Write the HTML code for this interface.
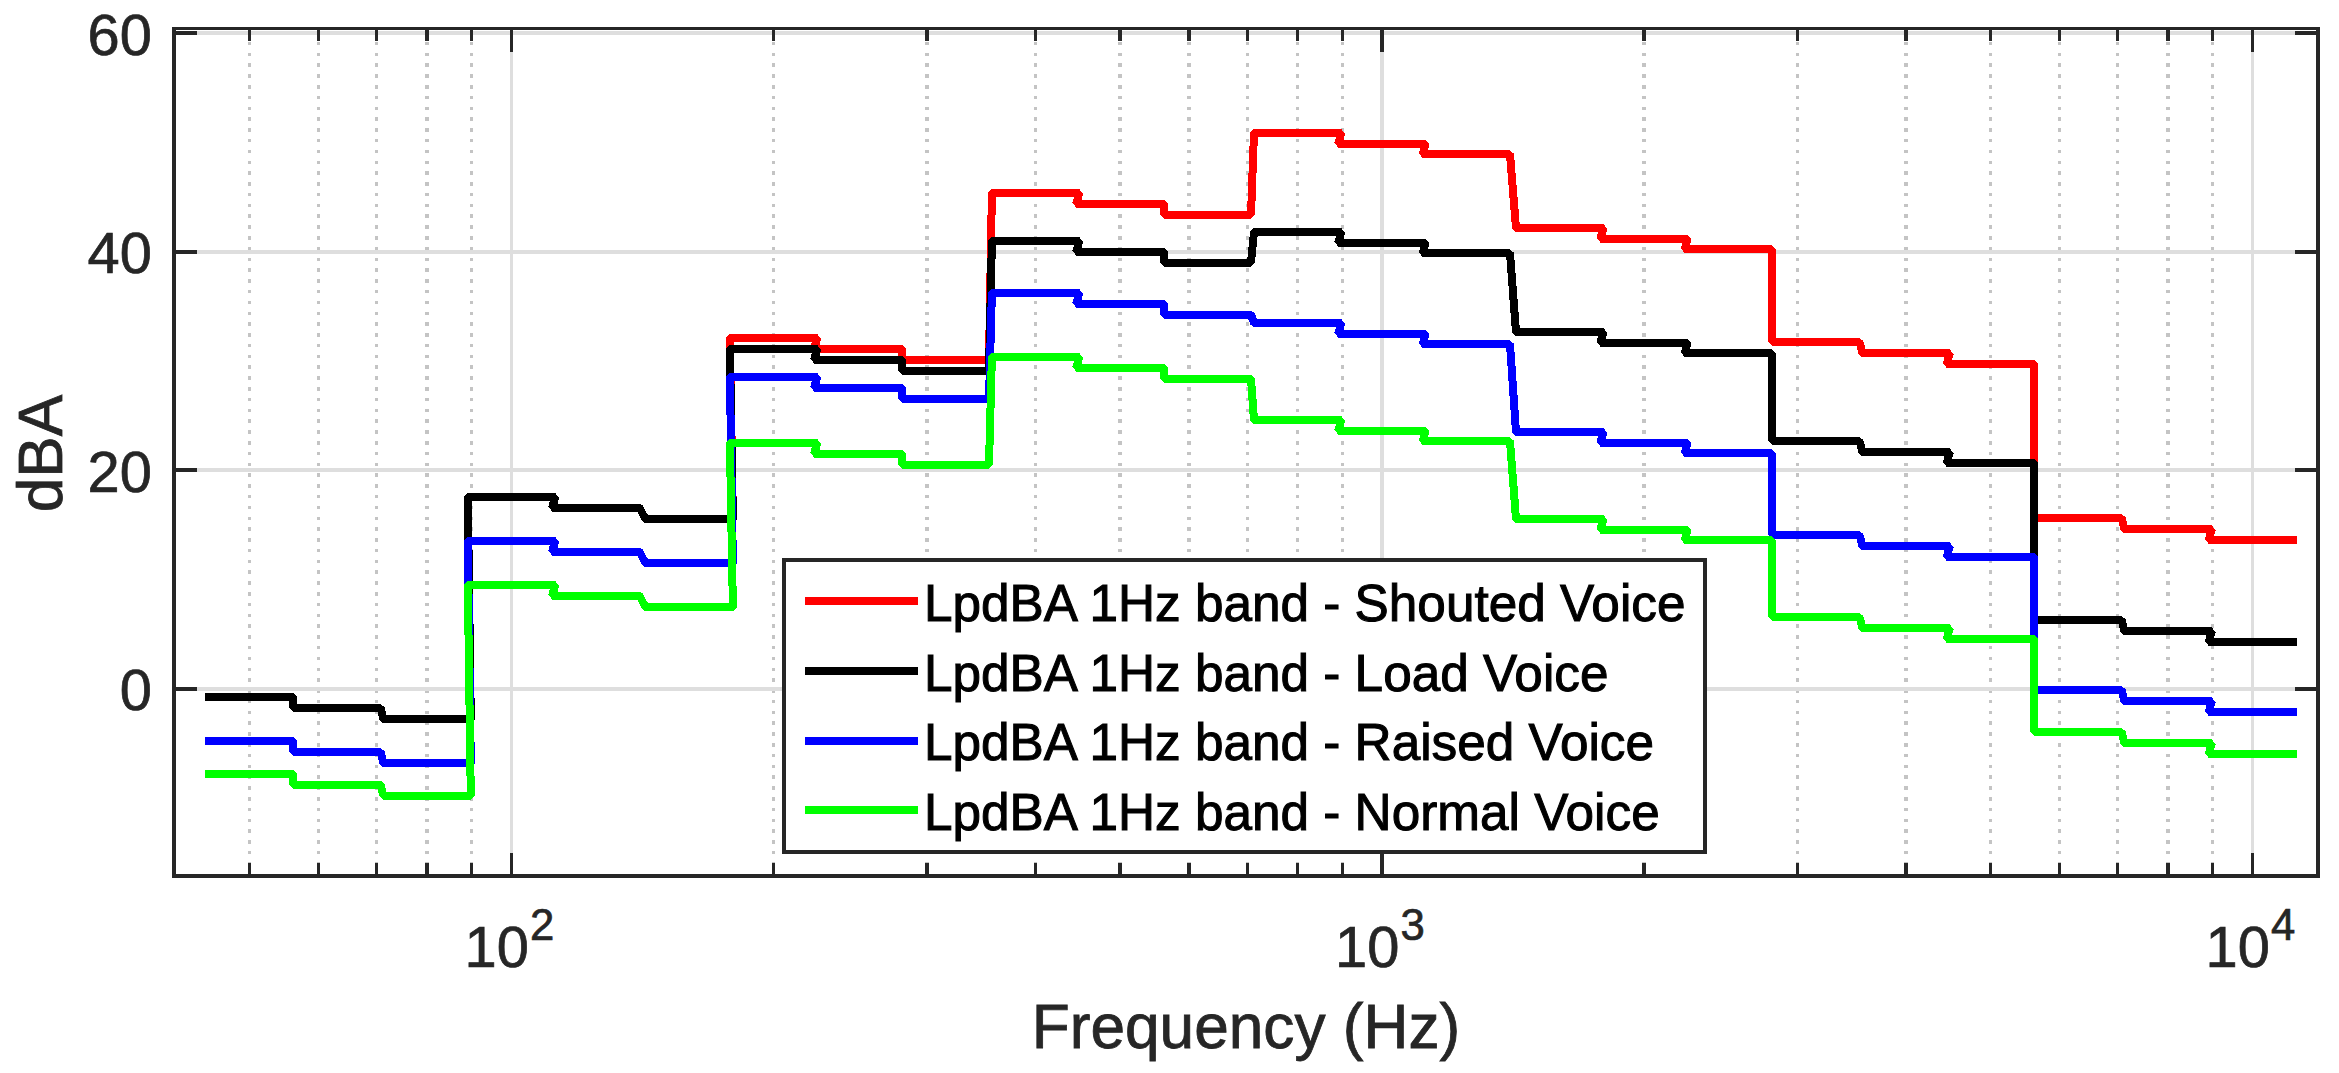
<!DOCTYPE html>
<html lang="en"><head><meta charset="utf-8"><title>LpdBA 1Hz band - Voice levels</title>
<style>html,body{margin:0;padding:0;background:#fff}body{width:2339px;height:1073px;overflow:hidden}svg{display:block}text{font-family:"Liberation Sans",Arial,Helvetica,sans-serif}</style>
</head><body>
<svg width="2339" height="1073" viewBox="0 0 2339 1073">
<rect x="0" y="0" width="2339" height="1073" fill="#fff"/>
<g shape-rendering="crispEdges">
<g stroke="#c4c4c4" stroke-width="3.4" stroke-dasharray="3.5 7.288" fill="none">
<line x1="249.5" y1="41.85" x2="249.5" y2="876.0"/>
<line x1="318.4" y1="41.85" x2="318.4" y2="876.0"/>
<line x1="376.7" y1="41.85" x2="376.7" y2="876.0"/>
<line x1="427.1" y1="41.85" x2="427.1" y2="876.0"/>
<line x1="471.7" y1="41.85" x2="471.7" y2="876.0"/>
<line x1="773.5" y1="41.85" x2="773.5" y2="876.0"/>
<line x1="926.8" y1="41.85" x2="926.8" y2="876.0"/>
<line x1="1035.6" y1="41.85" x2="1035.6" y2="876.0"/>
<line x1="1120.0" y1="41.85" x2="1120.0" y2="876.0"/>
<line x1="1188.9" y1="41.85" x2="1188.9" y2="876.0"/>
<line x1="1247.2" y1="41.85" x2="1247.2" y2="876.0"/>
<line x1="1297.6" y1="41.85" x2="1297.6" y2="876.0"/>
<line x1="1342.2" y1="41.85" x2="1342.2" y2="876.0"/>
<line x1="1644.0" y1="41.85" x2="1644.0" y2="876.0"/>
<line x1="1797.3" y1="41.85" x2="1797.3" y2="876.0"/>
<line x1="1906.1" y1="41.85" x2="1906.1" y2="876.0"/>
<line x1="1990.5" y1="41.85" x2="1990.5" y2="876.0"/>
<line x1="2059.4" y1="41.85" x2="2059.4" y2="876.0"/>
<line x1="2117.7" y1="41.85" x2="2117.7" y2="876.0"/>
<line x1="2168.1" y1="41.85" x2="2168.1" y2="876.0"/>
<line x1="2212.7" y1="41.85" x2="2212.7" y2="876.0"/>
</g>
<g stroke="#dedede" stroke-width="3.4" fill="none">
<line x1="511.5" y1="28.5" x2="511.5" y2="876.0"/>
<line x1="1382.0" y1="28.5" x2="1382.0" y2="876.0"/>
<line x1="2252.5" y1="28.5" x2="2252.5" y2="876.0"/>
</g>
<g stroke="#dedede" stroke-width="4" fill="none">
<line x1="174.0" y1="33.0" x2="2318.0" y2="33.0"/>
<line x1="174.0" y1="252.0" x2="2318.0" y2="252.0"/>
<line x1="174.0" y1="470.0" x2="2318.0" y2="470.0"/>
<line x1="174.0" y1="689.0" x2="2318.0" y2="689.0"/>
</g>
</g>
<g fill="none" stroke-width="8" stroke-linejoin="bevel" stroke-linecap="butt" shape-rendering="crispEdges">
<path d="M205.1 697.0 L293.1 697.0 L293.2 708.0 L380.5 708.0 L383.5 719.3 L470.8 719.3 L467.8 497.0 L555.2 497.0 L552.2 507.6 L639.5 507.6 L645.5 519.3 L732.9 519.3 L729.9 338.0 L817.2 338.0 L814.2 348.6 L901.6 348.6 L901.6 359.6 L989.0 359.6 L991.9 193.0 L1079.3 193.0 L1076.3 203.6 L1163.6 203.6 L1163.7 214.6 L1251.0 214.6 L1254.0 133.0 L1341.3 133.0 L1338.3 143.6 L1425.7 143.6 L1422.7 154.2 L1510.0 154.2 L1516.0 228.0 L1603.4 228.0 L1600.4 238.6 L1687.7 238.6 L1684.7 249.2 L1772.1 249.2 L1772.1 342.0 L1859.5 342.0 L1862.4 353.3 L1949.8 353.3 L1946.8 363.9 L2034.1 363.9 L2034.2 518.0 L2121.5 518.0 L2124.5 529.3 L2211.8 529.3 L2208.8 539.9 L2297.1 539.9" stroke="#ff0000"/>
<path d="M205.1 697.0 L293.1 697.0 L293.2 708.0 L380.5 708.0 L383.5 719.3 L470.8 719.3 L467.8 497.0 L555.2 497.0 L552.2 507.6 L639.5 507.6 L645.5 519.3 L732.9 519.3 L729.9 349.0 L817.2 349.0 L814.2 359.6 L901.6 359.6 L901.6 370.6 L989.0 370.6 L991.9 241.0 L1079.3 241.0 L1076.3 251.6 L1163.6 251.6 L1163.7 262.6 L1251.0 262.6 L1254.0 232.0 L1341.3 232.0 L1338.3 242.6 L1425.7 242.6 L1422.7 253.2 L1510.0 253.2 L1516.0 332.0 L1603.4 332.0 L1600.4 342.6 L1687.7 342.6 L1684.7 353.2 L1772.1 353.2 L1772.1 441.0 L1859.5 441.0 L1862.4 452.3 L1949.8 452.3 L1946.8 462.9 L2034.1 462.9 L2034.2 620.0 L2121.5 620.0 L2124.5 631.3 L2211.8 631.3 L2208.8 641.9 L2297.1 641.9" stroke="#000000"/>
<path d="M205.1 741.0 L293.1 741.0 L293.2 752.0 L380.5 752.0 L383.5 763.3 L470.8 763.3 L467.8 541.0 L555.2 541.0 L552.2 551.6 L639.5 551.6 L645.5 563.3 L732.9 563.3 L729.9 377.0 L817.2 377.0 L814.2 387.6 L901.6 387.6 L901.6 398.6 L989.0 398.6 L991.9 293.0 L1079.3 293.0 L1076.3 303.6 L1163.6 303.6 L1163.7 314.6 L1251.0 314.6 L1254.0 323.0 L1341.3 323.0 L1338.3 333.6 L1425.7 333.6 L1422.7 344.2 L1510.0 344.2 L1516.0 432.0 L1603.4 432.0 L1600.4 442.6 L1687.7 442.6 L1684.7 453.2 L1772.1 453.2 L1772.1 535.0 L1859.5 535.0 L1862.4 546.3 L1949.8 546.3 L1946.8 556.9 L2034.1 556.9 L2034.2 690.0 L2121.5 690.0 L2124.5 701.3 L2211.8 701.3 L2208.8 711.9 L2297.1 711.9" stroke="#0000ff"/>
<path d="M205.1 773.5 L293.1 773.5 L293.2 784.5 L380.5 784.5 L383.5 795.8 L470.8 795.8 L467.8 585.0 L555.2 585.0 L552.2 595.6 L639.5 595.6 L645.5 607.3 L732.9 607.3 L729.9 443.0 L817.2 443.0 L814.2 453.6 L901.6 453.6 L901.6 464.6 L989.0 464.6 L991.9 357.0 L1079.3 357.0 L1076.3 367.6 L1163.6 367.6 L1163.7 378.6 L1251.0 378.6 L1254.0 420.0 L1341.3 420.0 L1338.3 430.6 L1425.7 430.6 L1422.7 441.2 L1510.0 441.2 L1516.0 519.0 L1603.4 519.0 L1600.4 529.6 L1687.7 529.6 L1684.7 540.2 L1772.1 540.2 L1772.1 617.0 L1859.5 617.0 L1862.4 628.3 L1949.8 628.3 L1946.8 638.9 L2034.1 638.9 L2034.2 732.0 L2121.5 732.0 L2124.5 743.3 L2211.8 743.3 L2208.8 753.9 L2297.1 753.9" stroke="#00ff00"/>
</g>
<g shape-rendering="crispEdges" stroke="#262626" fill="none">
<rect x="172" y="27" width="2148" height="3" fill="#262626" stroke="none"/>
<rect x="172" y="874" width="2148" height="4" fill="#262626" stroke="none"/>
<rect x="172" y="27" width="4" height="851" fill="#262626" stroke="none"/>
<rect x="2316" y="27" width="4" height="851" fill="#262626" stroke="none"/>
<rect x="174" y="31" width="23" height="4" fill="#262626" stroke="none"/>
<rect x="2295" y="31" width="23" height="4" fill="#262626" stroke="none"/>
<rect x="174" y="250" width="23" height="4" fill="#262626" stroke="none"/>
<rect x="2295" y="250" width="23" height="4" fill="#262626" stroke="none"/>
<rect x="174" y="468" width="23" height="4" fill="#262626" stroke="none"/>
<rect x="2295" y="468" width="23" height="4" fill="#262626" stroke="none"/>
<rect x="174" y="687" width="23" height="4" fill="#262626" stroke="none"/>
<rect x="2295" y="687" width="23" height="4" fill="#262626" stroke="none"/>
<rect x="510" y="853" width="3" height="23" fill="#262626" stroke="none"/>
<rect x="510" y="28" width="3" height="23.5" fill="#262626" stroke="none"/>
<rect x="1380" y="853" width="4" height="23" fill="#262626" stroke="none"/>
<rect x="1380" y="28" width="4" height="23.5" fill="#262626" stroke="none"/>
<rect x="2251" y="853" width="3" height="23" fill="#262626" stroke="none"/>
<rect x="2251" y="28" width="3" height="23.5" fill="#262626" stroke="none"/>
<rect x="247.8" y="863" width="3.4" height="13" fill="#262626" stroke="none"/>
<rect x="247.8" y="28" width="3.4" height="12.5" fill="#262626" stroke="none"/>
<rect x="316.7" y="863" width="3.4" height="13" fill="#262626" stroke="none"/>
<rect x="316.7" y="28" width="3.4" height="12.5" fill="#262626" stroke="none"/>
<rect x="375.0" y="863" width="3.4" height="13" fill="#262626" stroke="none"/>
<rect x="375.0" y="28" width="3.4" height="12.5" fill="#262626" stroke="none"/>
<rect x="425.4" y="863" width="3.4" height="13" fill="#262626" stroke="none"/>
<rect x="425.4" y="28" width="3.4" height="12.5" fill="#262626" stroke="none"/>
<rect x="470.0" y="863" width="3.4" height="13" fill="#262626" stroke="none"/>
<rect x="470.0" y="28" width="3.4" height="12.5" fill="#262626" stroke="none"/>
<rect x="771.8" y="863" width="3.4" height="13" fill="#262626" stroke="none"/>
<rect x="771.8" y="28" width="3.4" height="12.5" fill="#262626" stroke="none"/>
<rect x="925.1" y="863" width="3.4" height="13" fill="#262626" stroke="none"/>
<rect x="925.1" y="28" width="3.4" height="12.5" fill="#262626" stroke="none"/>
<rect x="1033.9" y="863" width="3.4" height="13" fill="#262626" stroke="none"/>
<rect x="1033.9" y="28" width="3.4" height="12.5" fill="#262626" stroke="none"/>
<rect x="1118.3" y="863" width="3.4" height="13" fill="#262626" stroke="none"/>
<rect x="1118.3" y="28" width="3.4" height="12.5" fill="#262626" stroke="none"/>
<rect x="1187.2" y="863" width="3.4" height="13" fill="#262626" stroke="none"/>
<rect x="1187.2" y="28" width="3.4" height="12.5" fill="#262626" stroke="none"/>
<rect x="1245.5" y="863" width="3.4" height="13" fill="#262626" stroke="none"/>
<rect x="1245.5" y="28" width="3.4" height="12.5" fill="#262626" stroke="none"/>
<rect x="1295.9" y="863" width="3.4" height="13" fill="#262626" stroke="none"/>
<rect x="1295.9" y="28" width="3.4" height="12.5" fill="#262626" stroke="none"/>
<rect x="1340.5" y="863" width="3.4" height="13" fill="#262626" stroke="none"/>
<rect x="1340.5" y="28" width="3.4" height="12.5" fill="#262626" stroke="none"/>
<rect x="1642.3" y="863" width="3.4" height="13" fill="#262626" stroke="none"/>
<rect x="1642.3" y="28" width="3.4" height="12.5" fill="#262626" stroke="none"/>
<rect x="1795.6" y="863" width="3.4" height="13" fill="#262626" stroke="none"/>
<rect x="1795.6" y="28" width="3.4" height="12.5" fill="#262626" stroke="none"/>
<rect x="1904.4" y="863" width="3.4" height="13" fill="#262626" stroke="none"/>
<rect x="1904.4" y="28" width="3.4" height="12.5" fill="#262626" stroke="none"/>
<rect x="1988.8" y="863" width="3.4" height="13" fill="#262626" stroke="none"/>
<rect x="1988.8" y="28" width="3.4" height="12.5" fill="#262626" stroke="none"/>
<rect x="2057.7" y="863" width="3.4" height="13" fill="#262626" stroke="none"/>
<rect x="2057.7" y="28" width="3.4" height="12.5" fill="#262626" stroke="none"/>
<rect x="2116.0" y="863" width="3.4" height="13" fill="#262626" stroke="none"/>
<rect x="2116.0" y="28" width="3.4" height="12.5" fill="#262626" stroke="none"/>
<rect x="2166.4" y="863" width="3.4" height="13" fill="#262626" stroke="none"/>
<rect x="2166.4" y="28" width="3.4" height="12.5" fill="#262626" stroke="none"/>
<rect x="2211.0" y="863" width="3.4" height="13" fill="#262626" stroke="none"/>
<rect x="2211.0" y="28" width="3.4" height="12.5" fill="#262626" stroke="none"/>
</g>
<g fill="#262626" stroke="#262626" stroke-width="0.7" font-size="57.8">
<text x="151.9" y="55.0" text-anchor="end">60</text>
<text x="151.9" y="273.0" text-anchor="end">40</text>
<text x="151.9" y="491.5" text-anchor="end">20</text>
<text x="151.9" y="709.9" text-anchor="end">0</text>
<text x="464.5" y="967.2">10<tspan font-size="43.7" dx="1.3" dy="-27.2">2</tspan></text>
<text x="1335.0" y="967.2">10<tspan font-size="43.7" dx="1.3" dy="-27.2">3</tspan></text>
<text x="2205.5" y="967.2">10<tspan font-size="43.7" dx="1.3" dy="-27.2">4</tspan></text>
</g>
<text x="1246" y="1047.7" font-size="62.2" text-anchor="middle" stroke="#262626" stroke-width="0.8" fill="#262626">Frequency (Hz)</text>
<text transform="translate(61.9,453.6) rotate(-90)" font-size="62.2" text-anchor="middle" stroke="#262626" stroke-width="0.8" fill="#262626">dBA</text>
<rect x="784.1" y="560.1" width="921.1" height="291.9" fill="#fff" stroke="#262626" stroke-width="3.6" shape-rendering="crispEdges"/>
<line x1="805" y1="601.0" x2="918.2" y2="601.0" stroke="#ff0000" stroke-width="8" shape-rendering="crispEdges"/>
<text x="924" y="621.0" font-size="51.3" fill="#000" stroke="#000" stroke-width="1">LpdBA 1Hz band - Shouted Voice</text>
<line x1="805" y1="671.0" x2="918.2" y2="671.0" stroke="#000000" stroke-width="8" shape-rendering="crispEdges"/>
<text x="924" y="690.5" font-size="51.3" fill="#000" stroke="#000" stroke-width="1">LpdBA 1Hz band - Load Voice</text>
<line x1="805" y1="741.0" x2="918.2" y2="741.0" stroke="#0000ff" stroke-width="8" shape-rendering="crispEdges"/>
<text x="924" y="760.3" font-size="51.3" fill="#000" stroke="#000" stroke-width="1">LpdBA 1Hz band - Raised Voice</text>
<line x1="805" y1="810.3" x2="918.2" y2="810.3" stroke="#00ff00" stroke-width="8" shape-rendering="crispEdges"/>
<text x="924" y="830.2" font-size="51.3" fill="#000" stroke="#000" stroke-width="1">LpdBA 1Hz band - Normal Voice</text>
</svg>
</body></html>
